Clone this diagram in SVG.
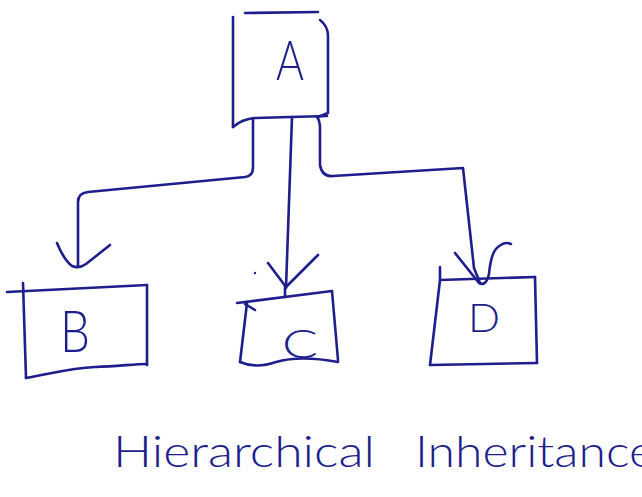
<svg xmlns="http://www.w3.org/2000/svg" width="642" height="497" viewBox="0 0 642 497">
  <style>
    .ink { fill: none; stroke: #1e1e8c; stroke-width: 2.6; stroke-linecap: round; stroke-linejoin: round; }
    .lbl { fill: #1e1e8c; font-family: "Lato", "Liberation Sans", sans-serif; font-weight: 300; text-anchor: middle; }
    .title { fill: #1e1e8c; font-family: "Lato", "Liberation Sans", sans-serif; font-weight: 300; font-size: 44px; }
  </style>
  <rect width="642" height="497" fill="#ffffff"/>

  <!-- parent class -->
  <g id="node-A">
    <path class="ink" d="M233,17 L233,127"/>
    <path class="ink" d="M245,13 L318,12"/>
    <path class="ink" d="M320,20 Q328,26 328,36 L328,113 L318,117"/>
    <path class="ink" d="M233,127 Q242,119 255,118 L327,116"/>
    <text class="lbl" x="290" y="80" font-size="56" textLength="28" lengthAdjust="spacingAndGlyphs">A</text>
  </g>

  <!-- child classes -->
  <g id="node-B">
    <path class="ink" d="M7,292 L147,285"/>
    <path class="ink" d="M23,283 L26,378"/>
    <path class="ink" d="M147,285 L147,365"/>
    <path class="ink" d="M26,378 C50,374 70,368 95,367 C120,366 135,364 147,364"/>
    <text class="lbl" x="75" y="352" font-size="58" textLength="30" lengthAdjust="spacingAndGlyphs">B</text>
  </g>

  <g id="node-C">
    <path class="ink" d="M237,303 L332,291"/>
    <path class="ink" d="M245,304 L255,310"/>
    <path class="ink" d="M247,303 L240,362"/>
    <path class="ink" d="M332,291 L338,360"/>
    <path class="ink" d="M240,362 Q256,369 276,362 Q300,355 338,362"/>
    <circle cx="255" cy="273" r="1.2" fill="#1e1e8c"/>
    <text class="lbl" x="300" y="358" font-size="40" textLength="36" lengthAdjust="spacingAndGlyphs">C</text>
  </g>

  <g id="node-D">
    <path class="ink" d="M440,267 L440,280 L535,277"/>
    <path class="ink" d="M440,280 L430,365"/>
    <path class="ink" d="M535,277 L537,363"/>
    <path class="ink" d="M430,365 L537,363"/>
    <text class="lbl" x="484" y="332" font-size="40" textLength="32" lengthAdjust="spacingAndGlyphs">D</text>
  </g>

  <!-- inheritance arrows -->
  <g id="connectors">
    <path class="ink" d="M253,118 L253,168 Q253,176 245,177 L88,192 Q78,193 78,202 L78,266"/>
    <path class="ink" d="M57,243 Q64,260 72,266 Q79,269 86,264 L110,245"/>

    <path class="ink" d="M292,117 L286,288"/>
    <path class="ink" d="M268,263 L286,287 L318,255"/>
    <path class="ink" stroke-width="4" d="M285,285 L285,297"/>

    <path class="ink" d="M317,117 Q320,121 320,128 L320,165 Q322,177 333,176 L463,168 L474,268 L480,283"/>
    <path class="ink" d="M455,253 L479,283 Q486,287 489,274 Q491,252 498,247 Q505,241 511,244"/>
  </g>

  <!-- caption -->
  <text class="title" y="467"><tspan x="113" textLength="262" lengthAdjust="spacingAndGlyphs">Hierarchical</tspan><tspan x="415" textLength="240" lengthAdjust="spacingAndGlyphs">Inheritance</tspan></text>
</svg>
